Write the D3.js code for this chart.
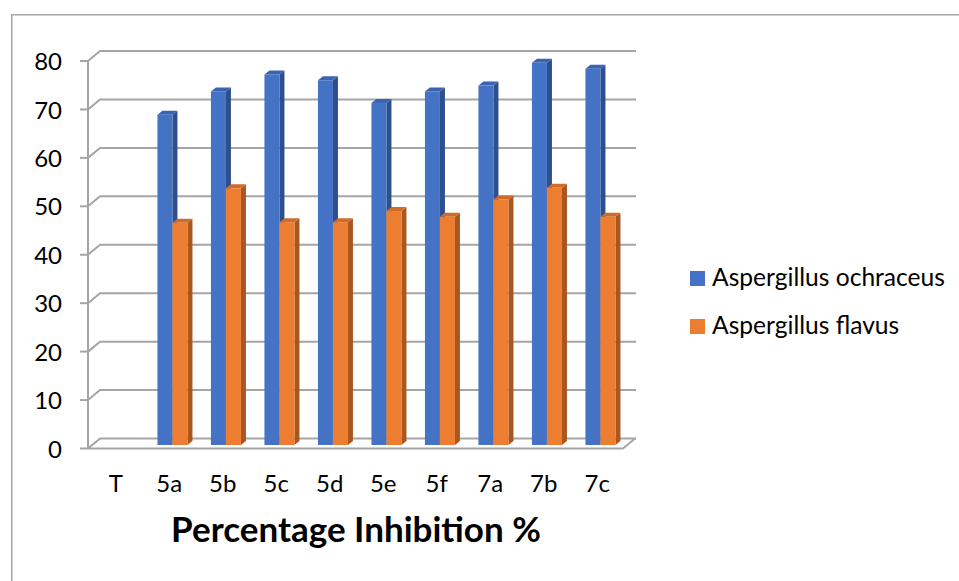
<!DOCTYPE html>
<html>
<head>
<meta charset="utf-8">
<script src="https://cdn.jsdelivr.net/npm/d3@7"></script>
<style>
  html, body { margin: 0; padding: 0; background: #ffffff; }
  svg { display: block; }
</style>
</head>
<body>
<svg id="chart" width="959" height="581"></svg>
<script>
// ---- data ----
const categories = ["T", "5a", "5b", "5c", "5d", "5e", "5f", "7a", "7b", "7c"];
const ochraceus = [0, 68.2, 73.0, 76.5, 75.3, 70.6, 73.0, 74.2, 78.9, 77.7];
const flavus = [0, 45.9, 53.0, 46.0, 46.0, 48.3, 47.1, 50.7, 53.1, 47.1];
const seriesNames = ["Aspergillus ochraceus", "Aspergillus flavus"];
const yTicks = [0, 10, 20, 30, 40, 50, 60, 70, 80];
const axisTitle = "Percentage Inhibition %";

(function () {
// ---- styles ----
const colors = [
  { front: "#4472C4", side: "#2E4F8C", top: "#3A64B2" },
  { front: "#ED7D31", side: "#A9561F", top: "#D06B29" }
];
const gridColor = "#A5A5A5";
const font = "Lato, 'Open Sans', sans-serif";

const svg = d3.select("#chart");

// chart frame
svg.append("rect")
  .attr("x", 11.75).attr("y", 14.75)
  .attr("width", 1000).attr("height", 1000)
  .attr("fill", "none").attr("stroke", "#A6A6A6").attr("stroke-width", 1.5);

// front plane geometry
const pLeft = 88, pRight = 623, pTop = 61, pBottom = 448.5;
const DX = 12, DY = -10;          // depth of the box
const barShift = [4.2, -3.5];     // bar front plane offset
const barDepth = [5, -4];
const barW = 15;

const x = d3.scaleBand().domain(categories).range([pLeft, pRight]).padding(0);
const y = d3.scaleLinear().domain([0, 80]).range([pBottom, pTop]);

const g = svg.append("g");

// gridlines: side wall diagonal + back wall horizontal
g.selectAll("path.grid").data(yTicks).join("path")
  .attr("class", "grid")
  .attr("d", d => d3.line()([[pLeft, y(d)], [pLeft + DX, y(d) + DY], [pRight + DX + 1, y(d) + DY]]))
  .attr("fill", "none").attr("stroke", gridColor).attr("stroke-width", 2);

// floor front edge
g.append("path")
  .attr("d", d3.line()([[pLeft, y(0)], [pRight, y(0)], [pRight + DX, y(0) + DY]]))
  .attr("fill", "none").attr("stroke", gridColor).attr("stroke-width", 2);

// vertical axis line + ticks
g.append("path")
  .attr("d", d3.line()([[pLeft, y(80)], [pLeft, y(0)]]))
  .attr("stroke", gridColor).attr("stroke-width", 2);
g.selectAll("path.tick").data(yTicks).join("path")
  .attr("class", "tick")
  .attr("d", d => d3.line()([[pLeft - 8, y(d)], [pLeft, y(d)]]))
  .attr("stroke", gridColor).attr("stroke-width", 2);

// y tick labels
g.selectAll("text.ytick").data(yTicks).join("text")
  .attr("class", "ytick")
  .attr("x", pLeft - 26).attr("y", d => y(d) + 3)
  .attr("text-anchor", "end").attr("dominant-baseline", "middle")
  .attr("font-family", font).attr("font-size", 24).attr("fill", "#000")
  .text(d => d);

// bars
const barData = [];
categories.forEach((c, i) => {
  [ochraceus[i], flavus[i]].forEach((v, s) => {
    if (v > 0) barData.push({ c, v, s });
  });
});

const bars = g.selectAll("g.bar").data(barData).join("g").attr("class", "bar");
function geom(d) {
  const x0 = x(d.c) + x.bandwidth() / 2 - barW + d.s * barW + barShift[0];
  const x1 = x0 + barW;
  const yt = y(d.v) + barShift[1];
  const yb = y(0) + barShift[1];
  return { x0, x1, yt, yb };
}
bars.append("path")
  .attr("d", d => { const q = geom(d); return d3.line()([[q.x1, q.yt], [q.x1 + barDepth[0], q.yt + barDepth[1]], [q.x1 + barDepth[0], q.yb + barDepth[1]], [q.x1, q.yb]]) + "Z"; })
  .attr("fill", d => colors[d.s].side);
bars.append("path")
  .attr("d", d => { const q = geom(d); return d3.line()([[q.x0, q.yt], [q.x1, q.yt], [q.x1 + barDepth[0], q.yt + barDepth[1]], [q.x0 + barDepth[0], q.yt + barDepth[1]]]) + "Z"; })
  .attr("fill", d => colors[d.s].top);
bars.append("rect")
  .attr("x", d => geom(d).x0).attr("y", d => geom(d).yt)
  .attr("width", barW).attr("height", d => geom(d).yb - geom(d).yt)
  .attr("fill", d => colors[d.s].front);

// x labels
g.selectAll("text.xlab").data(categories).join("text")
  .attr("class", "xlab")
  .attr("x", d => x(d) + x.bandwidth() / 2 + 1).attr("y", 492)
  .attr("text-anchor", "middle")
  .attr("font-family", font).attr("font-size", 24).attr("fill", "#000")
  .text(d => d);

// axis title
svg.append("text")
  .attr("x", 356).attr("y", 542)
  .attr("text-anchor", "middle")
  .attr("font-family", font).attr("font-size", 35).attr("font-weight", "bold").attr("fill", "#000")
  .text(axisTitle);

// legend
const legend = svg.append("g");
const legendY = [286, 334];
seriesNames.forEach((name, i) => {
  legend.append("rect")
    .attr("x", 690).attr("y", legendY[i] - 15)
    .attr("width", 15).attr("height", 15)
    .attr("fill", colors[i].front);
  legend.append("text")
    .attr("x", 712).attr("y", legendY[i])
    .attr("font-family", font).attr("font-size", 24.6).attr("fill", "#000")
    .text(name);
});
})();
</script>
</body>
</html>
